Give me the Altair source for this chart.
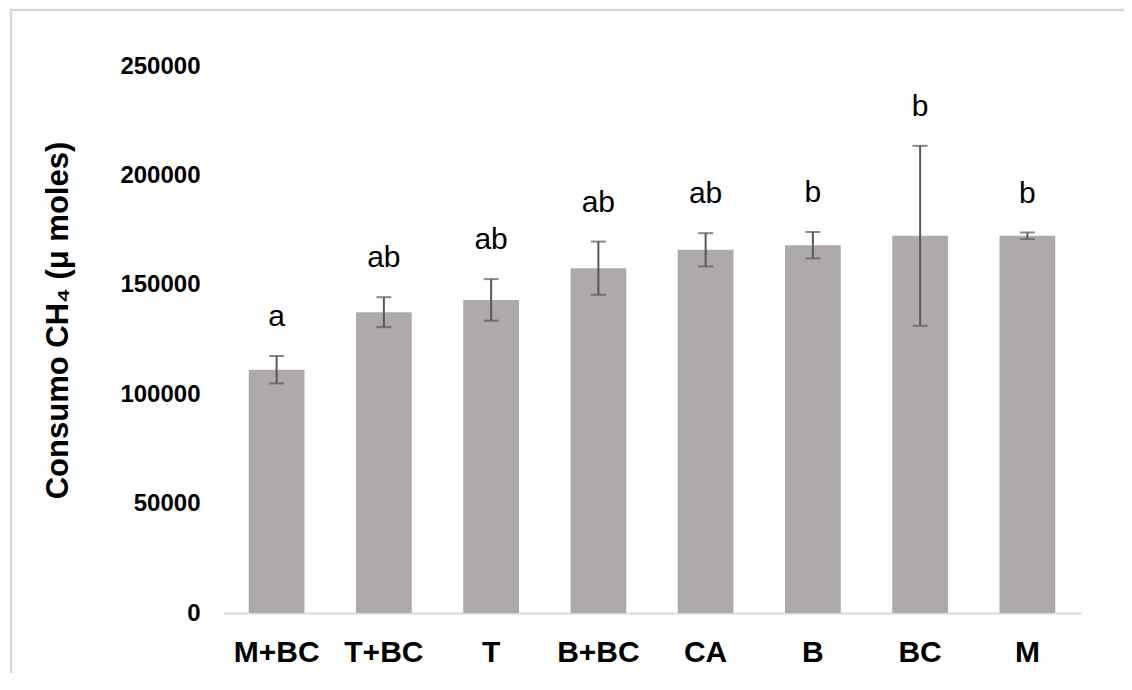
import altair as alt
import pandas as pd

treatments = ["M+BC", "T+BC", "T", "B+BC", "CA", "B", "BC", "M"]
means = [111200, 137500, 143100, 157600, 166000, 168100, 172400, 172400]
sds = [6250, 6850, 9500, 12150, 7600, 6050, 41100, 1500]
letters = ["a", "ab", "ab", "ab", "ab", "b", "b", "b"]
y_ticks = [0, 50000, 100000, 150000, 200000, 250000]

df = pd.DataFrame({"t": treatments, "mean": means, "sd": sds, "letter": letters})

FONT = "Liberation Sans"

base = alt.Chart(df).transform_calculate(
    lo="datum.mean - datum.sd", hi="datum.mean + datum.sd"
)

x = alt.X(
    "t:N",
    sort=treatments,
    scale=alt.Scale(paddingInner=0.48, paddingOuter=0.24),
    axis=alt.Axis(
        title=None, labelAngle=0, labelFont=FONT, labelFontWeight="bold",
        labelFontSize=30, labelColor="#000000", labelPadding=24,
        ticks=False, tickSize=0, domainColor="#d9d9d9", domainWidth=2,
    ),
)
yscale = alt.Scale(domain=[0, 250000], nice=False, zero=True)

bars = base.mark_bar(color="#aeaaaa").encode(
    x=x,
    y=alt.Y(
        "mean:Q", scale=yscale,
        axis=alt.Axis(
            values=y_ticks, format="d", title="Consumo CH₄ (μ moles)",
            titleFont=FONT, titleFontSize=31, titleFontWeight="bold",
            titleColor="#000000", titleX=-156, titleY=254,
            titleBaseline="alphabetic",
            labelFont=FONT, labelFontSize=24, labelFontWeight="bold",
            labelColor="#000000", labelPadding=23, ticks=False, tickSize=0,
            domain=False, grid=False,
        ),
    ),
)

rules = base.mark_rule(color="#595959", strokeWidth=2).encode(
    x=alt.X("t:N", sort=treatments), y=alt.Y("lo:Q", scale=yscale), y2="hi:Q"
)
tick_hi = base.mark_tick(color="#595959", thickness=2, size=15).encode(
    x=alt.X("t:N", sort=treatments), y=alt.Y("hi:Q", scale=yscale)
)
tick_lo = base.mark_tick(color="#595959", thickness=2, size=15).encode(
    x=alt.X("t:N", sort=treatments), y=alt.Y("lo:Q", scale=yscale)
)
labels = base.mark_text(
    font=FONT, fontSize=30, color="#000000", baseline="alphabetic", dy=-30
).encode(
    x=alt.X("t:N", sort=treatments), y=alt.Y("hi:Q", scale=yscale), text="letter:N"
)

frame_df = pd.DataFrame({"k": [0]})
frame_top = alt.Chart(frame_df).mark_rule(color="#d9d9d9", strokeWidth=2.5).encode(
    x=alt.value(-213), x2=alt.value(1000), y=alt.value(-56)
)
frame_left = alt.Chart(frame_df).mark_rule(color="#d9d9d9", strokeWidth=2.5).encode(
    x=alt.value(-212), y=alt.value(-57), y2=alt.value(700)
)

chart = alt.layer(frame_top, frame_left, bars, rules, tick_hi, tick_lo, labels).properties(
    width=858, height=547,
    autosize=alt.AutoSizeParams(type="none"),
    padding={"left": 215, "top": 58, "right": 43, "bottom": 60},
).configure_view(stroke=None)

chart.save("out.html", embed_options={"renderer": "svg", "actions": False})
